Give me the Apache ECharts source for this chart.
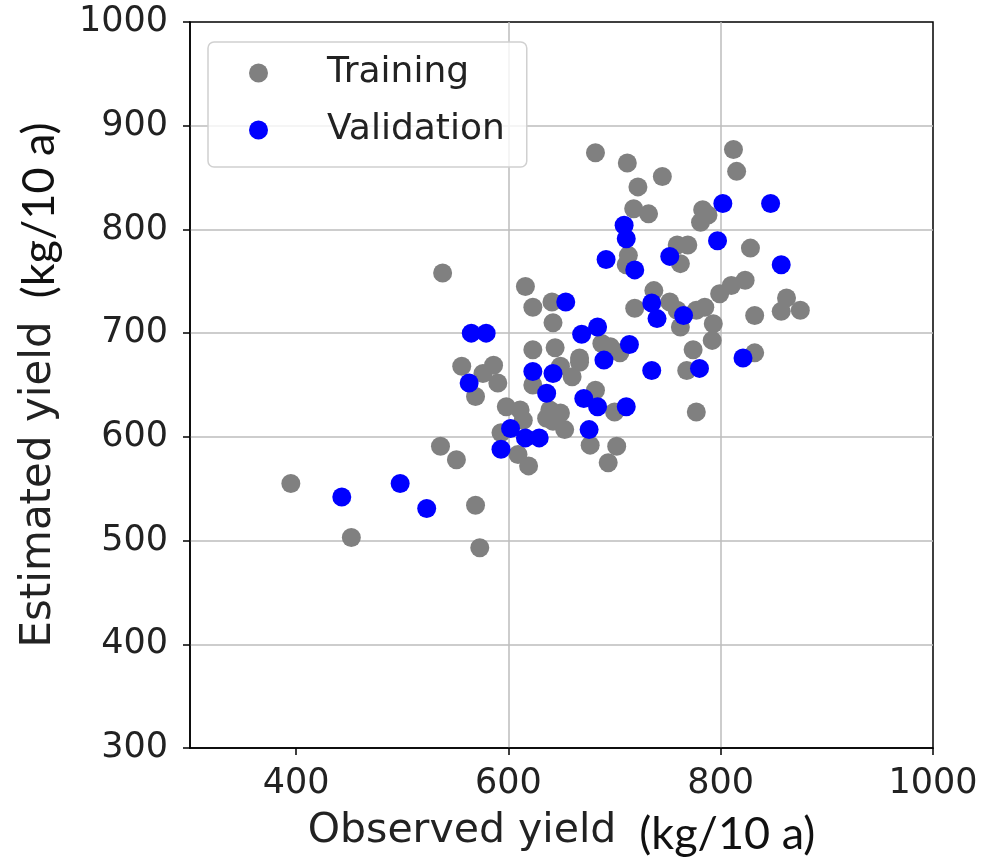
<!DOCTYPE html>
<html>
<head>
<meta charset="utf-8">
<title>Observed vs estimated yield</title>
<script src="https://cdn.jsdelivr.net/npm/echarts@6/dist/echarts.min.js"></script>
<style>
    html, body { margin: 0; padding: 0; background: #fff; }
    #chart { width: 984px; height: 858px; }
</style>
</head>
<body>
<div id="chart"></div>
<script>
// 训练集 (observed, estimated)
const trainingX = [
    395, 452, 538, 536, 551, 569, 573, 556, 569, 576, 586, 590, 598, 611, 614, 609,
    619, 616, 623, 623, 623, 641, 642, 644, 639, 649, 636, 642, 653, 649, 660, 667,
    682, 677, 702, 694, 700, 688, 696, 705, 682, 712, 745, 722, 718, 732, 713, 711,
    737, 719, 752, 759, 762, 774, 768, 759, 769, 762, 777, 785, 793, 792, 783, 788,
    781, 812, 815, 799, 810, 823, 828, 832, 832, 862, 857, 875, 777, 667, 593
];
const trainingY = [
    555, 503, 758, 591, 578, 534, 493, 668, 639, 661, 669, 652, 629, 626, 616, 583,
    572, 745, 725, 684, 650, 730, 710, 686, 626, 623, 618, 615, 607, 668, 658, 676,
    645, 592, 591, 575, 624, 690, 687, 681, 874, 864, 851, 841, 820, 815, 775, 766,
    741, 724, 730, 722, 706, 684, 664, 785, 785, 767, 722, 725, 709, 693, 819, 814,
    807, 877, 856, 738, 746, 751, 782, 717, 681, 734, 721, 722, 624, 672, 604
];

// 验证集
const validationX = [
    443, 498, 523, 565, 579, 563, 593, 602, 616, 629, 623, 642, 636, 654, 671, 669,
    684, 684, 690, 692, 676, 709, 711, 714, 711, 719, 735, 735, 740, 752, 765, 780,
    797, 802, 821, 847, 857
];
const validationY = [
    542, 555, 531, 700, 700, 652, 588, 608, 599, 599, 663, 661, 642, 730, 637, 699,
    706, 629, 674, 771, 607, 804, 791, 689, 629, 761, 664, 729, 714, 774, 717, 666,
    789, 825, 676, 825, 766
];

const xTicks = [400, 600, 800, 1000];

const FONT = "'DejaVu Sans', sans-serif";
const UNIT_FONT = "Lato, 'Open Sans', sans-serif";

const zip = (xs, ys) => xs.map((x, i) => [x, ys[i]]);

const chart = echarts.init(document.getElementById('chart'), null, { renderer: 'canvas' });

const axisCommon = {
    type: 'value',
    max: 1000,
    axisLine: { show: true, lineStyle: { color: '#000', width: 1.5 } },
    axisTick: { show: true, length: 7, lineStyle: { color: '#000', width: 1.5 } },
    axisLabel: {
        color: '#222', fontFamily: FONT, fontSize: 35,
        formatter: v => String(v)
    },
    splitLine: {
        show: true,
        showMinLine: false,
        showMaxLine: false,
        lineStyle: { color: '#bdbdbd', width: 1.5 }
    }
};

chart.setOption({
    backgroundColor: '#fff',
    animation: false,
    grid: {
        left: 190, top: 22, width: 743, height: 726,
        outerBoundsMode: 'none',
        containLabel: false,
        show: true, borderColor: '#000', borderWidth: 1.5
    },
    legend: {
        orient: 'vertical',
        left: 208, top: 42,
        padding: [13, 22, 19, 41],
        itemWidth: 19, itemHeight: 19,
        itemGap: 21,
        backgroundColor: 'rgba(255,255,255,0.8)',
        borderColor: '#d0d0d0', borderWidth: 1.5, borderRadius: 6,
        textStyle: {
            color: '#222', fontFamily: FONT, fontSize: 36,
            lineHeight: 34, padding: [0, 0, 0, 54]
        },
        data: ['Training', 'Validation']
    },
    xAxis: Object.assign({}, axisCommon, {
        min: 300,
        axisTick: Object.assign({}, axisCommon.axisTick, { customValues: xTicks }),
        axisLabel: Object.assign({}, axisCommon.axisLabel, { customValues: xTicks, margin: 18 }),
        name: '{a|Observed yield}{b|  (kg/10 a)}',
        nameLocation: 'middle',
        nameGap: 58,
        nameTextStyle: {
            rich: {
                a: { fontFamily: FONT, fontSize: 41, color: '#222' },
                b: { fontFamily: UNIT_FONT, fontSize: 45, color: '#111', padding: [6, 0, 0, 0] }
            }
        }
    }),
    yAxis: Object.assign({}, axisCommon, {
        min: 300,
        interval: 100,
        axisLabel: Object.assign({}, axisCommon.axisLabel, { margin: 22 }),
        name: '{a|Estimated yield}{b|  (kg/10 a)}',
        nameLocation: 'middle',
        nameRotate: 90,
        nameGap: 128,
        nameTextStyle: {
            rich: {
                a: { fontFamily: FONT, fontSize: 42, color: '#222' },
                b: { fontFamily: UNIT_FONT, fontSize: 45, color: '#111' }
            }
        }
    }),
    series: [
        {
            name: 'Training',
            type: 'scatter',
            symbol: 'circle',
            symbolSize: 19,
            itemStyle: { color: '#808080', opacity: 1 },
            data: zip(trainingX, trainingY)
        },
        {
            name: 'Validation',
            type: 'scatter',
            symbol: 'circle',
            symbolSize: 19,
            itemStyle: { color: '#0000ff', opacity: 1 },
            data: zip(validationX, validationY)
        }
    ]
});

window.addEventListener('resize', () => chart.resize());
</script>
</body>
</html>
